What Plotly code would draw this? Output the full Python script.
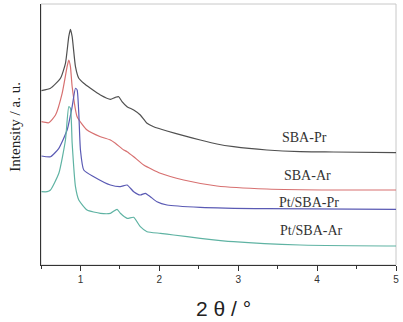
import plotly.graph_objects as go

# 2-theta values (degrees) and intensities (arbitrary units, offset stacked)
x_sba_pr = [0.506, 0.620, 0.747, 0.810, 0.852, 0.873, 0.895, 0.937, 0.979, 1.042, 1.127, 1.253, 1.380,
            1.443, 1.485, 1.527, 1.591, 1.675, 1.759, 1.844, 1.928, 2.097, 2.308, 2.519, 2.730, 2.941,
            3.363, 3.785, 4.207, 5.0]
y_sba_pr = [174.3, 176.7, 186.7, 201.7, 228.3, 235.7, 228.3, 198.3, 186.7, 181.7, 176.7, 170, 165.7,
            167.7, 168.3, 163.3, 158.3, 155, 150, 141.7, 138.3, 134, 129.3, 125, 121, 118.3,
            115, 113.3, 113, 112.3]

x_sba_ar = [0.506, 0.599, 0.684, 0.768, 0.831, 0.852, 0.873, 0.895, 0.958, 1.084, 1.253, 1.380, 1.443,
            1.549, 1.591, 1.675, 1.802, 2.013, 2.308, 2.730, 3.363, 4.207, 5.0]
y_sba_ar = [143.3, 142.3, 150, 171.7, 198.3, 205, 198.3, 178.3, 148.3, 135, 128.3, 125, 121.7,
            115, 113.3, 108.3, 100, 91.7, 85, 79, 76, 75, 75]

x_pt_pr = [0.506, 0.620, 0.726, 0.831, 0.895, 0.937, 0.958, 0.979, 1.0, 1.042, 1.169, 1.380, 1.506,
           1.591, 1.675, 1.759, 1.823, 1.886, 1.970, 2.097, 2.519, 3.363, 5.0]
y_pt_pr = [109, 108.3, 116.7, 135, 158.3, 176.7, 175, 151.7, 115, 95, 88.3, 80, 78.3,
           80, 73.3, 70, 71.7, 68.3, 63.3, 60, 57.7, 56.3, 55.7]

x_pt_ar = [0.506, 0.578, 0.620, 0.726, 0.810, 0.852, 0.873, 0.895, 0.937, 0.979, 1.084, 1.253, 1.380,
           1.464, 1.506, 1.591, 1.675, 1.759, 1.844, 2.013, 2.181, 2.519, 2.941, 3.785, 5.0]
y_pt_ar = [73.3, 73.3, 75, 91.7, 125, 158.3, 156.7, 121.7, 78.3, 65, 55, 51.7, 51.7,
           55.7, 51.7, 46.7, 47.7, 38.3, 33.3, 31.7, 30, 26.7, 23.3, 20, 19]

series_names = ["SBA-Pr", "SBA-Ar", "Pt/SBA-Pr", "Pt/SBA-Ar"]
series_colors = ["#505050", "#d77070", "#5a5ab4", "#5fb3a3"]
label_y = [128, 90, 63, 35]
label_x = [3.53, 3.55, 3.49, 3.50]

xs = [x_sba_pr, x_sba_ar, x_pt_pr, x_pt_ar]
ys = [y_sba_pr, y_sba_ar, y_pt_pr, y_pt_ar]

fig = go.Figure()
for x, y, n, c in zip(xs, ys, series_names, series_colors):
    fig.add_trace(go.Scatter(x=x, y=y, mode="lines", name=n,
                             line=dict(color=c, width=1.2, shape="spline", smoothing=0.5),
                             showlegend=False))

for n, lx, ly in zip(series_names, label_x, label_y):
    fig.add_annotation(x=lx, y=ly, text=n, showarrow=False, xanchor="left", yanchor="middle",
                       font=dict(family="Liberation Serif", size=14, color="#333333"))

# light border on top/right
fig.add_shape(type="rect", xref="paper", yref="paper", x0=0, y0=0, x1=1, y1=1,
              line=dict(color="#c8c8c8", width=1), layer="below")

fig.add_annotation(xref="paper", yref="paper", x=0.513, y=0, yshift=-43, text="2 θ / °",
                   showarrow=False, xanchor="center", yanchor="middle",
                   font=dict(family="Liberation Sans", size=21, color="#222222"))
fig.add_annotation(xref="paper", yref="paper", x=0, xshift=-26, y=0.53, text="Intensity / a. u.",
                   showarrow=False, textangle=-90, xanchor="center", yanchor="middle",
                   font=dict(family="Liberation Serif", size=15, color="#222222"))

fig.update_xaxes(range=[0.5, 5.0], tickvals=[1, 2, 3, 4, 5], ticks="outside", ticklen=5,
                 tickwidth=1, tickcolor="#333", showline=True, linecolor="#333", linewidth=1.3,
                 showgrid=False, zeroline=False,
                 tickfont=dict(family="Liberation Sans", size=10, color="#333"),
                 minor=dict(tickvals=[0.5, 1.5, 2.5, 3.5, 4.5], ticks="outside", ticklen=3,
                            tickcolor="#333", showgrid=False))
fig.update_yaxes(range=[0, 261], showticklabels=False, ticks="", showline=True,
                 linecolor="#333", linewidth=1.3, showgrid=False, zeroline=False)

fig.update_layout(width=403, height=322, margin=dict(l=41, r=7, t=4, b=57),
                  plot_bgcolor="white", paper_bgcolor="white")

fig.write_html("out.html", config={"displayModeBar": False},
               post_script="document.body.style.margin='0';")
